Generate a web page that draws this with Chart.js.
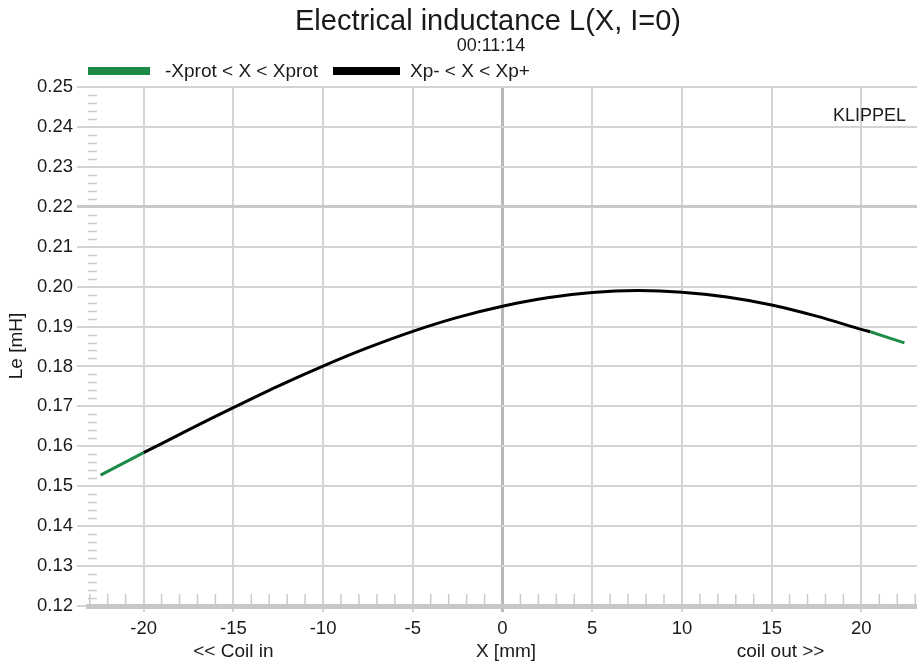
<!DOCTYPE html>
<html lang="en">
<head>
<meta charset="UTF-8">
<title>Electrical inductance L(X, I=0)</title>
<script src="https://cdn.jsdelivr.net/npm/chart.js"></script>
<style>
  html, body { margin: 0; padding: 0; background: #fff; }
  canvas { display: block; }
</style>
</head>
<body>
<canvas id="chart" width="917" height="662"></canvas>
<script>
// values
const xMm  = [-22.4, -20, -17.5, -15, -12.5, -10, -7.5, -5, -2.5, 0, 2.5, 5, 7.5, 10, 12.5, 15, 17.5, 20, 20.5, 22.4];
const leMh = [0.1528, 0.1584, 0.1641, 0.1697, 0.1751, 0.1801, 0.1847, 0.1888, 0.1923, 0.1951, 0.1972, 0.1985, 0.1990, 0.1986, 0.1974, 0.1954, 0.1926, 0.1893, 0.1887, 0.1859];
const xpMinus = -20;
const xpPlus = 20.5;
const xTicks = [-20, -15, -10, -5, 0, 5, 10, 15, 20];
const yTicks = [0.12, 0.13, 0.14, 0.15, 0.16, 0.17, 0.18, 0.19, 0.20, 0.21, 0.22, 0.23, 0.24, 0.25];
const legendLabels = ['-Xprot < X < Xprot', 'Xp- < X < Xp+'];

const FONT = '"Liberation Sans", Arial, sans-serif';
const GREEN = '#1d8a48';

const pts = xMm.map((x, i) => ({ x: x, y: leMh[i] }));
const blackPts = pts.filter(p => p.x >= xpMinus && p.x <= xpPlus);
const greenPts = pts.filter(p => p.x <= xpMinus)
  .concat([{ x: 0, y: null }])
  .concat(pts.filter(p => p.x >= xpPlus));

const near = (a, b) => Math.abs(a - b) < 1e-6;

const decor = {
  id: 'decor',
  beforeDatasetsDraw(chart) {
    const ctx = chart.ctx, a = chart.chartArea;
    const xs = chart.scales.x, ys = chart.scales.y;
    ctx.save();
    ctx.strokeStyle = '#cacaca';
    ctx.lineWidth = 1.5;
    // minor ticks on the left side
    for (let k = 60; k <= 125; k++) {
      if (k % 5 === 0) continue;
      const y = Math.round(ys.getPixelForValue(k * 0.002)) + 0.5;
      ctx.beginPath(); ctx.moveTo(a.left, y); ctx.lineTo(a.left + 9, y); ctx.stroke();
    }
    // minor ticks on the bottom
    for (let m = -23; m <= 23; m++) {
      if (m % 5 === 0) continue;
      const x = xs.getPixelForValue(m);
      if (x < a.left || x > a.right) continue;
      ctx.beginPath(); ctx.moveTo(x, a.bottom); ctx.lineTo(x, a.bottom - 12); ctx.stroke();
    }
    ctx.restore();
  },
  afterDraw(chart) {
    const ctx = chart.ctx, xs = chart.scales.x;
    ctx.save();
    ctx.fillStyle = '#1a1a1a';
    ctx.textBaseline = 'middle';
    ctx.textAlign = 'center';
    ctx.font = '29px ' + FONT;
    ctx.fillText('Electrical inductance L(X, I=0)', 488, 22);
    ctx.font = '18px ' + FONT;
    ctx.fillText('00:11:14', 491, 46);

    // legend
    ctx.fillStyle = GREEN;
    ctx.fillRect(88, 67, 62, 8);
    ctx.fillStyle = '#000';
    ctx.fillRect(333, 67, 67, 8);
    ctx.fillStyle = '#1a1a1a';
    ctx.textAlign = 'left';
    ctx.font = '19px ' + FONT;
    ctx.fillText(legendLabels[0], 165, 72);
    ctx.fillText(legendLabels[1], 410, 72);

    ctx.textAlign = 'right';
    ctx.font = '18px ' + FONT;
    ctx.fillText('KLIPPEL', 906, 116);

    // x axis captions
    ctx.textAlign = 'center';
    ctx.font = '19px ' + FONT;
    ctx.fillText('<< Coil in', xs.getPixelForValue(-15), 652);
    ctx.fillText('X [mm]', 506, 652);
    ctx.fillText('coil out >>', xs.getPixelForValue(15.5), 652);

    // y axis title
    ctx.translate(17, 346);
    ctx.rotate(-Math.PI / 2);
    ctx.fillText('Le [mH]', 0, 0);
    ctx.restore();
  }
};

new Chart(document.getElementById('chart'), {
  type: 'scatter',
  data: {
    datasets: [
      {
        label: legendLabels[0],
        data: greenPts,
        showLine: true,
        borderColor: GREEN,
        borderWidth: 3,
        pointRadius: 0,
        tension: 0.3,
        spanGaps: false
      },
      {
        label: legendLabels[1],
        data: blackPts,
        showLine: true,
        borderColor: '#000',
        borderWidth: 3,
        pointRadius: 0,
        tension: 0.3
      }
    ]
  },
  options: {
    responsive: false,
    animation: false,
    layout: { padding: { top: 87, left: 0, right: 0, bottom: 0 } },
    plugins: {
      legend: { display: false },
      title: { display: false },
      tooltip: { enabled: false }
    },
    scales: {
      x: {
        type: 'linear',
        min: -23.1,
        max: 23.1,
        afterBuildTicks: s => { s.ticks = xTicks.map(v => ({ value: v })); },
        afterFit: s => { s.height = 56; },
        border: { display: true, color: '#c8c8c8', width: 5 },
        grid: {
          color: c => (c.tick && c.tick.value === 0) ? '#b8b8b8' : '#d4d4d4',
          lineWidth: c => (c.tick && c.tick.value === 0) ? 3 : 2,
          tickLength: 6
        },
        ticks: {
          padding: 6,
          color: '#1a1a1a',
          font: { family: FONT, size: 18.5 },
          maxRotation: 0
        }
      },
      y: {
        type: 'linear',
        min: 0.12,
        max: 0.25,
        afterBuildTicks: s => { s.ticks = yTicks.map(v => ({ value: v })); },
        afterFit: s => { s.width = 88; },
        border: { display: false },
        grid: {
          color: c => (c.tick && near(c.tick.value, 0.22)) ? '#c8c8c8' : '#d4d4d4',
          lineWidth: c => (c.tick && near(c.tick.value, 0.22)) ? 3 : 2,
          tickLength: 11
        },
        ticks: {
          padding: 4,
          color: '#1a1a1a',
          font: { family: FONT, size: 18.5 },
          callback: v => v.toFixed(2)
        }
      }
    }
  },
  plugins: [decor]
});
</script>
</body>
</html>
